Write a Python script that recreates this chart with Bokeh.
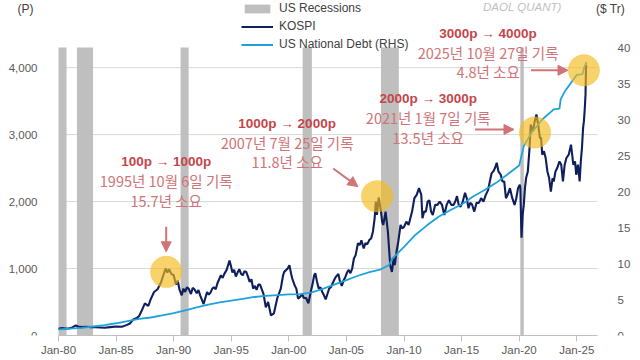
from bokeh.plotting import figure
from bokeh.models import (Range1d, LinearAxis, FixedTicker, NumeralTickFormatter, Legend, LegendItem,
                          Label, Arrow, NormalHead)
from bokeh.embed import file_html
from bokeh.resources import INLINE

# ---------------- data ----------------
kospi_year = [1980.0, 1980.3, 1980.6, 1980.9, 1981.2, 1981.5, 1981.7, 1982.0, 1982.4, 1982.8,
              1983.2, 1983.6, 1984.0, 1984.5, 1985.0, 1985.5, 1985.9, 1986.2, 1986.5, 1986.8,
              1987.0, 1987.3, 1987.5, 1987.8, 1988.0, 1988.3, 1988.6, 1988.9, 1989.1, 1989.3,
              1989.45, 1989.6, 1989.8, 1990.0, 1990.2, 1990.35, 1990.5, 1990.7, 1990.85, 1991.0,
              1991.15, 1991.3, 1991.5, 1991.65, 1991.8, 1992.0, 1992.15, 1992.3, 1992.6, 1992.9,
              1993.05, 1993.2, 1993.35, 1993.5, 1993.65, 1993.8, 1994.1, 1994.25, 1994.4, 1994.6,
              1994.85, 1995.0, 1995.1, 1995.25, 1995.4, 1995.55, 1995.7, 1995.85, 1996.0, 1996.15,
              1996.3, 1996.45, 1996.6, 1996.75, 1996.9, 1997.05, 1997.2, 1997.35, 1997.5, 1997.65,
              1997.8, 1998.0, 1998.2, 1998.45, 1998.7, 1999.0, 1999.3, 1999.5, 1999.6, 1999.9,
              2000.05, 2000.2, 2000.3, 2000.5, 2000.65, 2000.8, 2001.0, 2001.15, 2001.3, 2001.5,
              2001.7, 2001.9, 2002.05, 2002.2, 2002.3, 2002.45, 2002.6, 2002.75, 2002.9, 2003.05,
              2003.2, 2003.35, 2003.5, 2003.65, 2003.8, 2004.0, 2004.1, 2004.3, 2004.45, 2004.6,
              2004.75, 2004.9, 2005.05, 2005.2, 2005.35, 2005.5, 2005.65, 2005.8, 2006.0, 2006.15,
              2006.3, 2006.5, 2006.65, 2006.8, 2007.0, 2007.15, 2007.3, 2007.45, 2007.55, 2007.65,
              2007.8, 2008.0, 2008.1, 2008.2, 2008.4, 2008.6, 2008.8, 2008.95, 2009.1, 2009.2,
              2009.35, 2009.5, 2009.7, 2009.85, 2010.0, 2010.2, 2010.4, 2010.55, 2010.7, 2010.9,
              2011.1, 2011.3, 2011.5, 2011.6, 2011.75, 2011.9, 2012.05, 2012.2, 2012.35, 2012.5,
              2012.7, 2012.9, 2013.1, 2013.3, 2013.5, 2013.7, 2013.9, 2014.1, 2014.3, 2014.45,
              2014.6, 2014.75, 2014.9, 2015.1, 2015.3, 2015.45, 2015.6, 2015.75, 2015.9, 2016.1,
              2016.3, 2016.5, 2016.7, 2016.9, 2017.1, 2017.3, 2017.45, 2017.6, 2017.75, 2017.9,
              2018.05, 2018.2, 2018.4, 2018.55, 2018.7, 2018.85, 2019.0, 2019.2, 2019.4, 2019.6,
              2019.75, 2019.9, 2020.05, 2020.1, 2020.2, 2020.3, 2020.4, 2020.5, 2020.6, 2020.75,
              2020.9, 2021.0, 2021.1, 2021.2, 2021.35, 2021.5, 2021.65, 2021.8, 2021.9, 2022.0,
              2022.15, 2022.3, 2022.45, 2022.6, 2022.75, 2022.9, 2023.0, 2023.15, 2023.3, 2023.5,
              2023.65, 2023.8, 2023.95, 2024.1, 2024.3, 2024.5, 2024.6, 2024.7, 2024.85, 2024.95,
              2025.1, 2025.25, 2025.35, 2025.45, 2025.55, 2025.62, 2025.7, 2025.76, 2025.8, 2025.83]
kospi_value = [100, 110, 105, 105, 120, 150, 135, 125, 130, 125,
               125, 120, 115, 125, 135, 130, 155, 180, 240, 260,
               290, 400, 480, 440, 540, 650, 690, 790, 900, 1000,
               940, 990, 920, 900, 760, 820, 690, 600, 700, 650,
               720, 700, 620, 710, 690, 630, 680, 600, 470, 650,
               610, 640, 700, 720, 690, 780, 900, 860, 920, 980,
               1120, 1020, 940, 980, 880, 940, 990, 920, 900, 960,
               950, 880, 800, 840, 700, 740, 680, 760, 760, 690,
               620, 420, 500, 300, 330, 560, 700, 900, 950, 1000,
               1050, 920, 850, 750, 700, 550, 580, 620, 560, 560,
               480, 650, 760, 900, 930, 800, 700, 720, 650, 600,
               540, 620, 700, 720, 780, 850, 880, 920, 800, 740,
               820, 870, 940, 980, 930, 1000, 1150, 1200, 1380, 1350,
               1420, 1300, 1380, 1360, 1430, 1450, 1550, 1750, 2000, 1800,
               2060, 1850, 1700, 1650, 1850, 1550, 1050, 950, 1150, 1050,
               1250, 1400, 1650, 1600, 1620, 1700, 1650, 1750, 1850, 2050,
               2100, 2200, 2100, 1750, 1850, 1850, 2000, 2020, 1850, 1800,
               1950, 1950, 2000, 1950, 1800, 1950, 2020, 1950, 1950, 2000,
               2080, 1950, 1920, 2000, 2130, 2050, 1900, 1980, 1960, 1850,
               1980, 1980, 2050, 2000, 2100, 2170, 2300, 2420, 2450, 2500,
               2580, 2450, 2400, 2300, 2300, 2050, 2100, 2200, 2050, 1950,
               2050, 2200, 2250, 2200, 1460, 1800, 1950, 2200, 2350, 2450,
               2800, 3150, 3100, 3050, 3200, 3300, 3150, 2950, 2950, 2700,
               2750, 2650, 2450, 2350, 2150, 2350, 2300, 2450, 2500, 2600,
               2550, 2300, 2550, 2650, 2700, 2850, 2700, 2550, 2600, 2400,
               2550, 2300, 2600, 2800, 3100, 3200, 3400, 3600, 4000, 4040]

debt_year = [1980.0, 1981.0, 1982.0, 1983.0, 1984.0, 1985.0, 1986.0, 1987.0, 1988.0, 1989.0,
             1990.0, 1991.0, 1992.0, 1993.0, 1994.0, 1995.0, 1996.0, 1997.0, 1998.0, 1999.0,
             2000.0, 2001.0, 2002.0, 2003.0, 2004.0, 2005.0, 2006.0, 2007.0, 2008.0, 2008.7,
             2009.0, 2010.0, 2011.0, 2012.0, 2013.0, 2014.0, 2015.0, 2016.0, 2017.0, 2018.0,
             2019.0, 2020.0, 2020.4, 2021.0, 2022.0, 2023.0, 2023.5, 2023.6, 2024.0, 2025.0,
             2025.5, 2025.6, 2025.85]
debt_value = [0.85, 0.95, 1.05, 1.25, 1.45, 1.7, 2.0, 2.3, 2.5, 2.8,
              3.1, 3.5, 3.9, 4.3, 4.6, 4.85, 5.1, 5.35, 5.5, 5.6,
              5.7, 5.75, 6.0, 6.5, 7.1, 7.7, 8.3, 8.8, 9.2, 9.8,
              10.7, 12.3, 14.0, 15.3, 16.5, 17.4, 18.2, 19.3, 20.2, 21.2,
              22.4, 23.6, 26.3, 28.0, 30.0, 31.4, 31.5, 32.8, 34.0, 36.2,
              36.3, 37.0, 38.0]

rec_start = [1980.0, 1981.6, 1990.6, 2001.2, 2008.0, 2020.1]
rec_end = [1980.7, 1983.0, 1991.3, 2002.0, 2009.55, 2020.4]

tick_years = [1980, 1985, 1990, 1995, 2000, 2005, 2010, 2015, 2020, 2025]
tick_labels = ["Jan-80", "Jan-85", "Jan-90", "Jan-95", "Jan-00", "Jan-05", "Jan-10", "Jan-15", "Jan-20", "Jan-25"]
left_ticks = [0, 1000, 2000, 3000, 4000]
right_ticks = [0, 5, 10, 15, 20, 25, 30, 35, 40]

hl_year = [1989.35, 2007.66, 2021.37, 2025.62]
hl_value = [950, 2080, 3030, 3960]

ann_title = ["100p → 1000p", "1000p → 2000p", "2000p → 3000p", "3000p → 4000p"]
ann_date = ["1995년 10월 6일 기록", "2007년 7월 25일 기록", "2021년 1월 7일 기록", "2025년 10월 27일 기록"]
ann_span = ["15.7년 소요", "11.8년 소요", "13.5년 소요", "4.8년 소요"]
source_note = "DAOL QUANT)"

# ---------------- layout / style ----------------
X0, X1 = 1980.0, 2026.8          # plotted date span
Y_LEFT_MAX, Y_RIGHT_MAX = 4300, 40
ann_x = [1989.35, 1999.85, 2012.1, 2017.3]
ann_y = [(2597, 2313, 2013), (3166, 2882, 2597), (3540, 3256, 2957), (4513, 4229, 3945)]
arrows = [(1989.35, 1624, 1989.35, 1250), (2003.85, 2493, 2006.0, 2223),
          (2016.17, 3076, 2019.55, 3076), (2021.03, 3960, 2024.24, 3960)]

RED_B = "#C4464B"
RED_R = "#D07478"
TICK_C = "#595959"

px_per_year = 539 / (X1 - X0)
x_lo = X0 - 58 / px_per_year
x_hi = X1 + 43 / px_per_year
y_hi = Y_LEFT_MAX * 335 / 288

p = figure(width=640, height=360, output_backend="svg", toolbar_location=None,
           x_range=Range1d(x_lo, x_hi), y_range=Range1d(0, y_hi),
           min_border_left=0, min_border_right=0, min_border_top=0, min_border_bottom=25)
p.outline_line_color = None
p.background_fill_color = "white"
p.extra_y_ranges = {"debt": Range1d(0, Y_RIGHT_MAX * y_hi / Y_LEFT_MAX)}

# grid lines (only over the plotted date span)
p.segment(x0=[X0] * 4, x1=[X1] * 4, y0=left_ticks[1:], y1=left_ticks[1:],
          line_color="#D9D9D9", line_width=1, level="underlay")

# recession bars
rec = p.quad(left=rec_start, right=rec_end, bottom=0, top=Y_LEFT_MAX, fill_color="#BFBFBF",
             line_color=None)

kospi = p.line(kospi_year, kospi_value, line_color="#0F1F5C", line_width=2.1)
debt = p.line(debt_year, debt_value, line_color="#1FA2DC", line_width=1.8, y_range_name="debt")

p.scatter(hl_year, hl_value, size=32, fill_color="#F5BC1C", fill_alpha=0.65, line_color=None)

# invisible renderer used only to carry the source note in a glyph-less legend
note_r = p.line([X0, X0], [0, 0], line_alpha=0)

# axes
p.xaxis.ticker = FixedTicker(ticks=tick_years)
p.xaxis.major_label_overrides = {y: l for y, l in zip(tick_years, tick_labels)}
p.xaxis.bounds = (X0, X1)
p.xaxis.axis_line_color = "#BFBFBF"
p.xaxis.major_tick_line_color = "#BFBFBF"
p.xaxis.major_tick_out = 6
p.xaxis.major_tick_in = 0
p.xaxis.minor_tick_line_color = None
p.xaxis.major_label_standoff = 2
p.xaxis.major_label_text_font = "Liberation Sans"
p.xaxis.major_label_text_font_size = "11.5px"
p.xaxis.major_label_text_color = TICK_C

p.yaxis.ticker = FixedTicker(ticks=left_ticks)
p.yaxis.formatter = NumeralTickFormatter(format="0,0")
p.yaxis.fixed_location = X0
p.yaxis.axis_line_color = None
p.yaxis.major_tick_line_color = None
p.yaxis.minor_tick_line_color = None
p.yaxis.major_label_standoff = 15
p.yaxis.major_label_text_font = "Liberation Sans"
p.yaxis.major_label_text_font_size = "11.5px"
p.yaxis.major_label_text_color = TICK_C

ax_r = LinearAxis(y_range_name="debt", ticker=FixedTicker(ticks=right_ticks), fixed_location=X1)
ax_r.axis_line_color = None
ax_r.major_tick_line_color = None
ax_r.minor_tick_line_color = None
ax_r.major_label_standoff = 14
ax_r.major_label_text_font = "Liberation Sans"
ax_r.major_label_text_font_size = "11.5px"
ax_r.major_label_text_color = TICK_C
p.add_layout(ax_r, "right")

p.xgrid.grid_line_color = None
p.ygrid.grid_line_color = None

# legend
legend = Legend(items=[LegendItem(label="US Recessions", renderers=[rec]),
                       LegendItem(label="KOSPI", renderers=[kospi]),
                       LegendItem(label="US National Debt (RHS)", renderers=[debt])],
                location=(241, 283), orientation="vertical",
                background_fill_alpha=0, border_line_color=None,
                label_text_font="Liberation Sans", label_text_font_size="12px",
                label_text_color="#404040", glyph_width=32, glyph_height=11,
                label_height=16, spacing=2, padding=0, margin=0, label_standoff=6)
p.add_layout(legend, "center")

# source note as a glyph-less legend entry
note = Legend(items=[LegendItem(label=source_note, renderers=[note_r])],
              location=(483, 321), background_fill_alpha=0, border_line_color=None,
              label_text_font="Liberation Sans", label_text_font_size="11.5px",
              label_text_font_style="italic", label_text_color="#BFBFBF",
              glyph_width=0, glyph_height=12, label_height=14, label_standoff=0,
              padding=0, margin=0)
p.add_layout(note, "center")

# unit labels
p.add_layout(Label(x=17, y=334, x_units="screen", y_units="screen", text="(P)",
                   text_font="Liberation Sans", text_font_size="12px", text_color="#404040",
                   text_baseline="top"))
p.add_layout(Label(x=610, y=334, x_units="screen", y_units="screen", text="($ Tr)",
                   text_font="Liberation Sans", text_font_size="12px", text_color="#404040",
                   text_baseline="top", text_align="center"))

# annotations
for i in range(4):
    y1, y2, y3 = ann_y[i]
    p.add_layout(Label(x=ann_x[i], y=y1, text=ann_title[i], text_font="Liberation Sans",
                       text_font_style="bold", text_font_size="13.5px", text_color=RED_B,
                       text_align="center", text_baseline="middle"))
    p.add_layout(Label(x=ann_x[i], y=y2, text=ann_date[i], text_font="Noto Sans CJK KR",
                       text_font_size="14.5px", text_color=RED_R,
                       text_align="center", text_baseline="middle"))
    p.add_layout(Label(x=ann_x[i], y=y3, text=ann_span[i], text_font="Noto Sans CJK KR",
                       text_font_size="14.5px", text_color=RED_R,
                       text_align="center", text_baseline="middle"))
    xs, ys, xe, ye = arrows[i]
    p.add_layout(Arrow(end=NormalHead(size=10, fill_color=RED_R, line_color=RED_R),
                       x_start=xs, y_start=ys, x_end=xe, y_end=ye,
                       line_color=RED_R, line_width=2))

open("out.html", "w").write(file_html(p, INLINE))
